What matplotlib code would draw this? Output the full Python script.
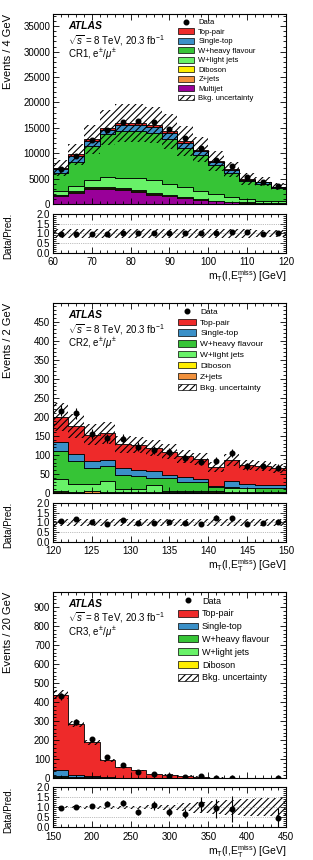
import numpy as np
import matplotlib
matplotlib.use('Agg')
import matplotlib.pyplot as plt
import matplotlib.ticker as ticker
from matplotlib.patches import Patch
from matplotlib.lines import Line2D

plt.rcParams['font.family'] = ['Liberation Sans', 'DejaVu Sans']
plt.rcParams['mathtext.fontset'] = 'custom'
plt.rcParams['mathtext.rm'] = 'Liberation Sans'
plt.rcParams['mathtext.it'] = 'Liberation Sans:italic'
plt.rcParams['hatch.linewidth'] = 0.8

# ------------------------------------------------------------------------------
# CR1 : 60-120 GeV, 4 GeV bins
#
cr1_edges = [60, 64, 68, 72, 76, 80, 84, 88, 92, 96, 100, 104, 108, 112, 116, 120]
cr1_multijet = [1600, 2200, 2900, 2950, 2800, 2400, 1850, 1500, 1150, 800, 500, 350, 250, 200, 150]
cr1_zjets = [150, 180, 200, 200, 190, 170, 150, 120, 100, 80, 60, 50, 40, 30, 25]
cr1_diboson = [100, 130, 150, 160, 160, 150, 140, 120, 100, 90, 70, 60, 50, 40, 30]
cr1_wlight = [650, 1000, 1550, 2100, 2050, 2300, 2550, 2150, 1900, 1600, 1300, 850, 600, 400, 300]
cr1_whf = [3550, 4800, 6600, 8300, 9100, 9300, 9300, 8950, 7850, 7050, 5750, 4850, 3500, 3350, 2600]
cr1_singletop = [850, 1150, 1000, 950, 1250, 1250, 1200, 1100, 950, 800, 550, 450, 300, 250, 200]
cr1_toppair = [250, 300, 300, 350, 400, 400, 400, 380, 350, 300, 250, 200, 180, 150, 130]
cr1_data = [6950, 9500, 12600, 14600, 16200, 16300, 16050, 14750, 12950, 11050, 8700, 7400, 5300, 4400, 3580]
cr1_unc = [0.22, 0.21, 0.22, 0.23, 0.23, 0.23, 0.23, 0.24, 0.24, 0.23, 0.24, 0.22, 0.23, 0.2, 0.2]

# ------------------------------------------------------------------------------
# CR2 : 120-150 GeV, 2 GeV bins
#
cr2_edges = [120, 122, 124, 126, 128, 130, 132, 134, 136, 138, 140, 142, 144, 146, 148, 150]
cr2_zjets = [4, 2, 5, 2, 1, 1, 1, 1, 2, 1, 4, 1, 1, 1, 1]
cr2_diboson = [2, 2, 1, 1, 1, 1, 1, 1, 1, 1, 1, 1, 1, 1, 1]
cr2_wlight = [31, 20, 18, 29, 8, 8, 19, 4, 2, 3, 1, 10, 10, 2, 2]
cr2_whf = [73, 60, 41, 40, 37, 35, 19, 34, 23, 23, 9, 3, 2, 8, 8]
cr2_singletop = [25, 18, 19, 16, 18, 15, 18, 7, 15, 10, 3, 17, 11, 9, 9]
cr2_toppair = [65, 74, 69, 70, 63, 66, 60, 61, 53, 52, 50, 55, 49, 51, 44]
cr2_data = [216, 209, 155, 144, 143, 122, 112, 108, 92, 82, 85, 106, 70, 70, 67]
cr2_unc = [0.18, 0.18, 0.18, 0.18, 0.17, 0.17, 0.18, 0.18, 0.18, 0.18, 0.19, 0.18, 0.18, 0.18, 0.18]

# ------------------------------------------------------------------------------
# CR3 : 150-450 GeV, 20 GeV bins
#
cr3_edges = [150, 170, 190, 210, 230, 250, 270, 290, 310, 330, 350, 370, 390, 410, 430, 450]
cr3_diboson = [1, 0.5, 0.5, 0.3, 0.2, 0.1, 0.1, 0.1, 0.1, 0.05, 0.05, 0.05, 0.05, 0.05, 0.05]
cr3_wlight = [4, 2, 2, 1, 0.5, 0.3, 0.2, 0.1, 0.1, 0.1, 0.05, 0.05, 0.05, 0.05, 0.05]
cr3_whf = [8, 5, 7, 2, 1, 0.5, 0.4, 0.3, 0.2, 0.1, 0.1, 0.1, 0.05, 0.05, 0.05]
cr3_singletop = [30, 8, 4, 3, 2, 1.5, 1, 0.8, 0.6, 0.4, 0.3, 0.2, 0.1, 0.1, 0.1]
cr3_toppair = [397, 270, 175, 89, 54, 40, 21, 17, 12, 8, 3.7, 1.8, 1.35, 0.95, 1.85]
cr3_data = [430, 295, 205, 113, 71, 33, 25, 14, 9, 10, 4, 2, 0, 0, 1]
cr3_unc = [0.05, 0.05, 0.06, 0.07, 0.07, 0.08, 0.1, 0.14, 0.2, 0.27, 0.32, 0.37, 0.42, 0.45, 0.45]

colours = {
    'Top-pair': '#ee2a2a',
    'Single-top': '#3a90c8',
    'W+heavy flavour': '#36c436',
    'W+light jets': '#68f268',
    'Diboson': '#ffee00',
    'Z+jets': '#f0903c',
    'Multijet': '#990099',
}
legend_order = ['Top-pair', 'Single-top', 'W+heavy flavour', 'W+light jets',
                'Diboson', 'Z+jets', 'Multijet']


def draw_region(ax, rax, edges, layers, data, unc, ylim, ymajor, yminor,
                xmajor, xminor, ylabel, region, leg_size, leg_space):
    edges = np.array(edges, float)
    bottom = np.zeros(len(edges) - 1)
    for name, vals in layers:                        # bottom to top of stack
        vals = np.array(vals, float)
        ax.stairs(bottom + vals, edges, baseline=bottom, fill=True,
                  facecolor=colours[name], edgecolor='black', lw=0.6)
        bottom = bottom + vals
    total = bottom
    band = total * np.array(unc)
    ax.stairs(total + band, edges, baseline=total - band, fill=True,
              facecolor='none', edgecolor='black', hatch='/////', lw=0)

    centres = 0.5 * (edges[1:] + edges[:-1])
    data = np.array(data, float)
    has = data > 0
    ax.errorbar(centres[has], data[has], yerr=np.sqrt(data[has]), fmt='o',
                color='black', ms=3.3, elinewidth=0.8, capsize=0)
                                                                   # ratio panel
    rax.stairs(1 + np.array(unc), edges, baseline=1 - np.array(unc), fill=True,
               facecolor='none', edgecolor='black', hatch='/////', lw=0)
    for level in (0.5, 1.0, 1.5):
        rax.axhline(level, color='grey', lw=0.5, ls=':')
    rax.errorbar(centres[has], data[has] / total[has],
                 yerr=np.sqrt(data[has]) / total[has], fmt='o',
                 color='black', ms=3.3, elinewidth=0.8, capsize=0)
                                                                     # cosmetics
    for a in (ax, rax):
        a.set_xlim(edges[0], edges[-1])
        a.xaxis.set_major_locator(ticker.MultipleLocator(xmajor))
        a.xaxis.set_minor_locator(ticker.MultipleLocator(xminor))
        a.tick_params(which='both', direction='in', top=True, right=True,
                      labelsize=7, pad=2, width=0.6)
        a.tick_params(which='major', length=4)
        a.tick_params(which='minor', length=2)
        for s in a.spines.values():
            s.set_linewidth(0.8)
    rax.tick_params(axis='x', pad=3.2)
    ax.tick_params(labelbottom=False)
    ax.set_ylim(0, ylim)
    ax.yaxis.set_major_locator(ticker.MultipleLocator(ymajor))
    ax.yaxis.set_minor_locator(ticker.MultipleLocator(yminor))
    rax.set_ylim(0, 2)
    rax.yaxis.set_major_locator(ticker.MultipleLocator(0.5))
    rax.yaxis.set_minor_locator(ticker.MultipleLocator(0.1))
    rax.yaxis.set_major_formatter(ticker.FormatStrFormatter('%.1f'))

    ax.set_ylabel(ylabel, fontsize=8, loc='top')
    ax.yaxis.set_label_coords(-0.17, 1.0)
    rax.set_ylabel('Data/Pred.', fontsize=7)
    rax.yaxis.set_label_coords(-0.17, 0.45)
    rax.set_xlabel(r'm$_{\mathrm{T}}$(l,E$_{\mathrm{T}}^{\mathrm{miss}}$) [GeV]',
                   fontsize=7.5, loc='right')
    rax.xaxis.set_label_coords(1.0, -0.39)

    ax.text(0.065, 0.935, 'ATLAS', transform=ax.transAxes, fontsize=7.5,
            fontweight='bold', fontstyle='italic', va='center')
    ax.text(0.065, 0.862, r'$\sqrt{s}$ = 8 TeV, 20.3 fb$^{-1}$',
            transform=ax.transAxes, fontsize=7, va='center')
    ax.text(0.065, 0.785, region + r', e$^{\pm}$/$\mu^{\pm}$',
            transform=ax.transAxes, fontsize=7, va='center')
                                                                        # legend
    present = [name for name, vals in layers]
    handles = [Line2D([], [], marker='o', color='black', ls='none', ms=3.3)]
    labels = ['Data']
    for name in legend_order:
        if name in present:
            handles.append(Patch(facecolor=colours[name], edgecolor='black', lw=0.5))
            labels.append(name)
    handles.append(Patch(facecolor='white', edgecolor='black', hatch='/////', lw=0.5))
    labels.append('Bkg. uncertainty')
    ax.legend(handles, labels, loc='upper left', bbox_to_anchor=(0.535, 0.975),
              frameon=False, fontsize=leg_size, labelspacing=leg_space,
              handlelength=2.2, handleheight=0.8, handletextpad=0.5,
              borderpad=0, borderaxespad=0)


figure = plt.figure(figsize=(3.13, 8.6), dpi=100)
left, width = 0.169, 0.745
ax1 = figure.add_axes([left, 0.7628, width, 0.2209])
rax1 = figure.add_axes([left, 0.7058, width, 0.0454])
ax2 = figure.add_axes([left, 0.4267, width, 0.2210])
rax2 = figure.add_axes([left, 0.3698, width, 0.0453])
ax3 = figure.add_axes([left, 0.0949, width, 0.2168])
rax3 = figure.add_axes([left, 0.0379, width, 0.0465])

draw_region(ax1, rax1, cr1_edges,
            [('Multijet', cr1_multijet), ('Z+jets', cr1_zjets),
             ('Diboson', cr1_diboson), ('W+light jets', cr1_wlight),
             ('W+heavy flavour', cr1_whf), ('Single-top', cr1_singletop),
             ('Top-pair', cr1_toppair)],
            cr1_data, cr1_unc, 37400, 5000, 1000, 10, 2,
            'Events / 4 GeV', 'CR1', 5.5, 0.25)
draw_region(ax2, rax2, cr2_edges,
            [('Z+jets', cr2_zjets), ('Diboson', cr2_diboson),
             ('W+light jets', cr2_wlight), ('W+heavy flavour', cr2_whf),
             ('Single-top', cr2_singletop), ('Top-pair', cr2_toppair)],
            cr2_data, cr2_unc, 499, 50, 10, 5, 1,
            'Events / 2 GeV', 'CR2', 6, 0.33)
draw_region(ax3, rax3, cr3_edges,
            [('Diboson', cr3_diboson), ('W+light jets', cr3_wlight),
             ('W+heavy flavour', cr3_whf), ('Single-top', cr3_singletop),
             ('Top-pair', cr3_toppair)],
            cr3_data, cr3_unc, 979, 100, 20, 50, 10,
            'Events / 20 GeV', 'CR3', 6.5, 0.42)

figure.savefig('out.png', dpi=100)
